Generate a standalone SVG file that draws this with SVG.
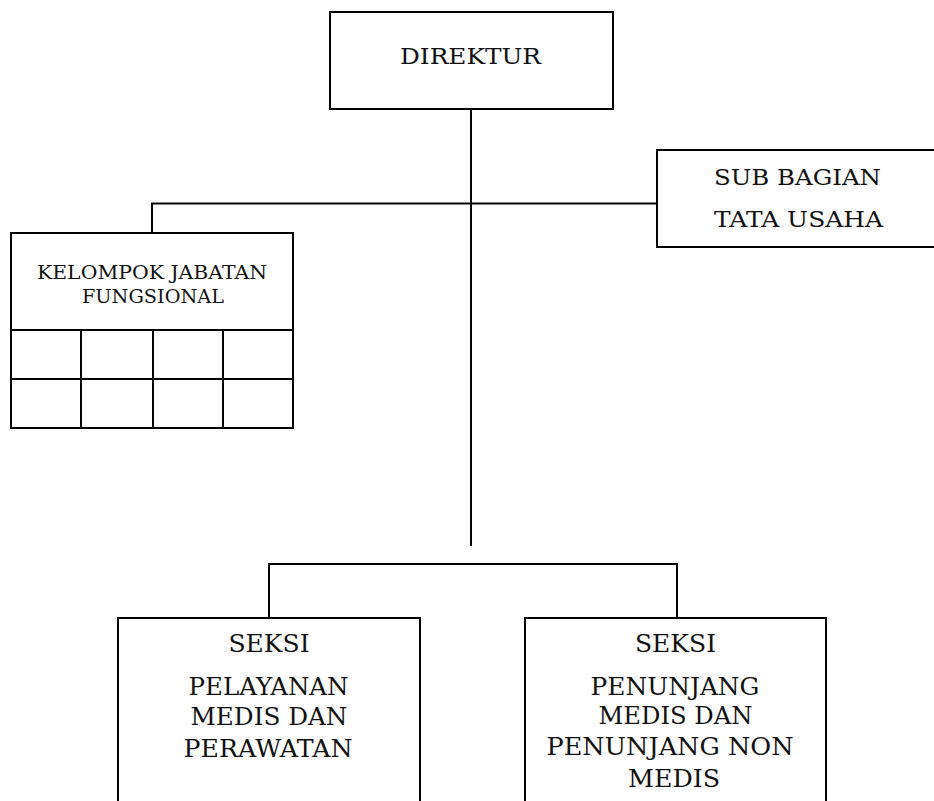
<svg xmlns="http://www.w3.org/2000/svg" width="934" height="801" viewBox="0 0 934 801">
<style>
.box{fill:#fff;stroke:#000;stroke-width:2}
.ln{fill:none;stroke:#000;stroke-width:2}
text{font-family:"DejaVu Serif","Liberation Serif",serif;fill:#111;text-anchor:middle}
.t21{font-size:23px}
.t17{font-size:19px}
.t22{font-size:24px}
</style>
<rect width="934" height="801" fill="#fff"/>
<g id="connectors">
<path class="ln" d="M471 109 V546"/>
<path class="ln" d="M152 233 V203.5 H657"/>
<path class="ln" d="M269 618 V564 H677 V618"/>
</g>
<g id="direktur">
<rect class="box" x="330" y="12" width="283" height="97"/>
<text class="t21" x="470.5" y="64" textLength="141" lengthAdjust="spacingAndGlyphs">DIREKTUR</text>
</g>
<g id="sub-bagian">
<rect class="box" x="657" y="150" width="290" height="97"/>
<text class="t21" x="797.5" y="185" textLength="167" lengthAdjust="spacingAndGlyphs">SUB BAGIAN</text>
<text class="t21" x="798.5" y="227" textLength="169" lengthAdjust="spacingAndGlyphs">TATA USAHA</text>
</g>
<g id="kelompok">
<rect class="box" x="11" y="233" width="282" height="195"/>
<path class="ln" d="M11 330 H293 M11 379 H293 M81 330 V428 M153 330 V428 M223 330 V428"/>
<text class="t17" x="152" y="279" textLength="230" lengthAdjust="spacingAndGlyphs">KELOMPOK JABATAN</text>
<text class="t17" x="153" y="303" textLength="142" lengthAdjust="spacingAndGlyphs">FUNGSIONAL</text>
</g>
<g id="seksi-pelayanan">
<rect class="box" x="118" y="618" width="302" height="200"/>
<text class="t22" x="269" y="652" textLength="81" lengthAdjust="spacingAndGlyphs">SEKSI</text>
<text class="t22" x="268.5" y="695" textLength="160" lengthAdjust="spacingAndGlyphs">PELAYANAN</text>
<text class="t22" x="269" y="725" textLength="157" lengthAdjust="spacingAndGlyphs">MEDIS DAN</text>
<text class="t22" x="268" y="757" textLength="169" lengthAdjust="spacingAndGlyphs">PERAWATAN</text>
</g>
<g id="seksi-penunjang">
<rect class="box" x="525" y="618" width="301" height="200"/>
<text class="t22" x="675.5" y="652" textLength="81" lengthAdjust="spacingAndGlyphs">SEKSI</text>
<text class="t22" x="675" y="695" textLength="169" lengthAdjust="spacingAndGlyphs">PENUNJANG</text>
<text class="t22" x="675.5" y="724" textLength="154" lengthAdjust="spacingAndGlyphs">MEDIS DAN</text>
<text class="t22" x="670" y="755" textLength="247" lengthAdjust="spacingAndGlyphs">PENUNJANG NON</text>
<text class="t22" x="674" y="787" textLength="92" lengthAdjust="spacingAndGlyphs">MEDIS</text>
</g>
</svg>
